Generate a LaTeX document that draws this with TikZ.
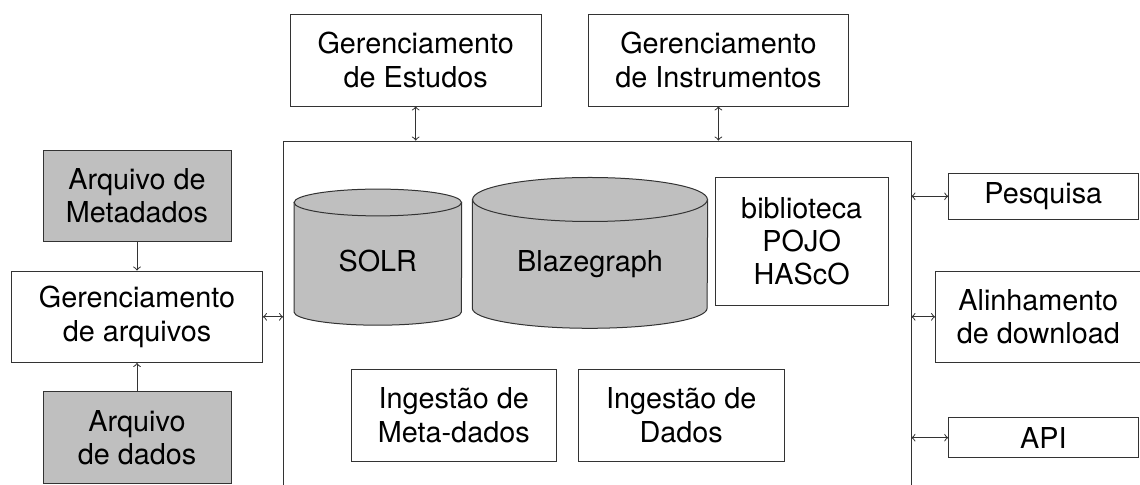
\documentclass[tikz,border=0pt]{standalone}
\usepackage{fontspec}
\setmainfont{TeX Gyre Heros}

\begin{document}
\begin{tikzpicture}[x=0.5pt,y=-0.5pt,
  txt/.style={align=center,inner sep=0pt,font=\fontsize{14.4}{16.6}\selectfont},
  box/.style={txt,draw=black!80,fill=white},
  filebox/.style={box,fill=black!25},
  dbline/.style={draw=black!80,fill=black!25,line width=0.5pt},
  link/.style={black!80,line width=0.5pt}]
\useasboundingbox (0,0) rectangle (1140,485);

% main block
\node[box,minimum width=313.75pt,minimum height=189.5pt] (core) at (597.25,330.5) {};

\node[box,minimum width=125.3pt,minimum height=46pt] (estudos) at (415.7,60) {Gerenciamento\\de Estudos};
\node[box,minimum width=130.3pt,minimum height=46pt] (instrum) at (718.4,60) {Gerenciamento\\de Instrumentos};

\node[filebox,minimum width=94pt,minimum height=45.8pt] (metaarq) at (137,195.8) {Arquivo de\\Metadados};
\node[box,minimum width=125.5pt,minimum height=45.8pt] (gerarq) at (137,316.8) {Gerenciamento\\de arquivos};
\node[filebox,minimum width=94pt,minimum height=45.8pt] (dadosarq) at (137,437.5) {Arquivo\\de dados};

\node[box,minimum width=94.7pt,minimum height=23pt] (pesq) at (1043.3,196.3) {Pesquisa};
\node[box,minimum width=102.8pt,minimum height=45.8pt] (alinh) at (1038.3,316.8) {Alinhamento\\de download};
\node[box,minimum width=94.7pt,minimum height=20pt] (api) at (1043.3,437.7) {API};

% databases
\draw[dbline] (294,202.5) -- (294,312) arc[start angle=180,end angle=360,x radius=41.85pt,y radius=6.6pt] -- (461.7,202.5) -- cycle;
\draw[dbline] (377.8,202.5) ellipse[x radius=41.85pt,y radius=6.7pt];
\node[txt,anchor=base] (solr) at (377.8,271.7) {SOLR};

\draw[dbline] (472.3,199.5) -- (472.3,308.3) arc[start angle=180,end angle=360,x radius=58.7pt,y radius=10pt] -- (707.7,199.5) -- cycle;
\draw[dbline] (590,199.5) ellipse[x radius=58.7pt,y radius=11pt];
\node[txt,anchor=base] (blaze) at (590,271.7) {Blazegraph};

\node[box,minimum width=86.7pt,minimum height=63.8pt] (pojo) at (801.7,241.2) {biblioteca\\POJO\\HAScO};

\node[box,minimum width=102.8pt,minimum height=45.8pt] (ingmeta) at (453.8,415.2) {Ingestão de\\Meta-dados};
\node[box,minimum width=102.8pt,minimum height=45.8pt] (ingdados) at (681.2,415.2) {Ingestão de\\Dados};

\draw[link,<->] (estudos.south) -- (estudos.south |- core.north);
\draw[link,<->] (instrum.south) -- (instrum.south |- core.north);
\draw[link,->] (metaarq.south) -- (gerarq.north);
\draw[link,->] (dadosarq.north) -- (gerarq.south);
\draw[link,<->] (gerarq.east) -- (gerarq.east -| core.west);
\draw[link,<->] (pesq.west -| core.east) -- (pesq.west);
\draw[link,<->] (alinh.west -| core.east) -- (alinh.west);
\draw[link,<->] (api.west -| core.east) -- (api.west);
\end{tikzpicture}
\end{document}
